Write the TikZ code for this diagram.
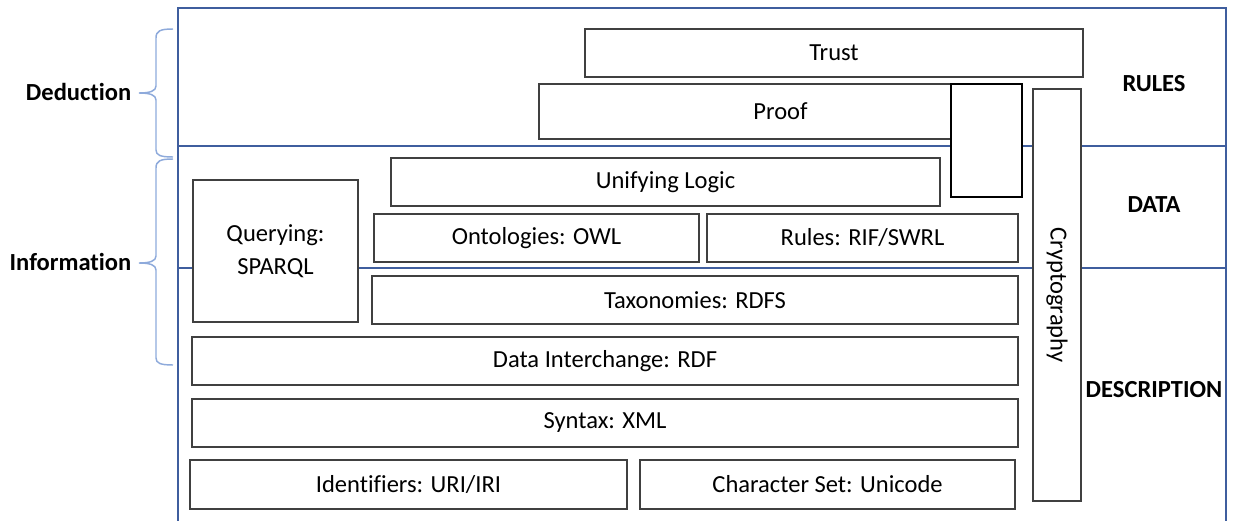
\documentclass[tikz,border=0pt]{standalone}
\usepackage{fontspec}
\setmainfont{Carlito}[Ligatures=NoCommon]
\usetikzlibrary{fit}
\definecolor{frameblue}{HTML}{3F5E9E}
\definecolor{braceblue}{HTML}{8EAADB}
\definecolor{boxgray}{HTML}{404040}
\begin{document}
\begin{tikzpicture}[x=0.75pt,y=-0.75pt,
  every node/.style={font=\fontsize{18.4}{22}\selectfont},
  layer/.style={draw=boxgray, line width=0.9pt, fill=white, inner sep=0pt},
  boxtext/.style={align=center, inner sep=0pt},
  frameline/.style={draw=frameblue, line width=1.5pt},
  bracepath/.style={draw=braceblue, line width=1.1pt},
  sidelabel/.style={font=\fontsize{18.4}{22}\selectfont\bfseries}]
\useasboundingbox (0,0) rectangle (1236,521);

% outer frame and band separators
\draw[frameline] (178,521) -- (178,8) -- (1226,8) -- (1226,521);
\draw[frameline] (178,146) -- (1226,146);
\draw[frameline] (178,268) -- (1226,268);

% stack layers
\node[layer, fit={(585,29) (1083,77)}, label={[boxtext]center:Trust}] (trust) {};
\node[layer, fit={(539,84) (1022,139)}, label={[boxtext]center:Proof}] (proof) {};
\node[layer, draw=black, line width=1.4pt, fit={(951,84) (1022,197)}] (proofext) {};
\node[layer, fit={(1033,89) (1081,501)}, label={[boxtext, rotate=-90]center:Cryptography}] (crypto) {};
\node[layer, fit={(391,158) (940,206)}, label={[boxtext]center:Unifying Logic}] (logic) {};
\node[layer, fit={(374,214) (699,262)}, label={[boxtext]center:Ontologies: OWL}] (owl) {};
\node[layer, fit={(707,214) (1018,262)}, label={[boxtext]center:Rules: RIF/SWRL}] (rif) {};
\node[layer, fit={(193,180) (358,322)}, label={[boxtext]center:{Querying:\\[3pt]SPARQL}}] (sparql) {};
\node[layer, fit={(372,276) (1018,324)}, label={[boxtext]center:Taxonomies: RDFS}] (rdfs) {};
\node[layer, fit={(192,337) (1018,385)}, label={[boxtext]center:Data Interchange: RDF}] (rdf) {};
\node[layer, fit={(192,399) (1018,447)}, label={[boxtext]center:Syntax: XML}] (xml) {};
\node[layer, fit={(190,460) (627,509)}, label={[boxtext]center:Identifiers: URI/IRI}] (uri) {};
\node[layer, fit={(640,460) (1015,509)}, label={[boxtext]center:Character Set: Unicode}] (unicode) {};

% band names
\node[sidelabel] (rules) at (1154,84) {RULES};
\node[sidelabel] (data) at (1154,205) {DATA};
\node[sidelabel] (descr) at (1154,390) {DESCRIPTION};

% braces on the left
\draw[bracepath] (173,29) .. controls (160,29) and (156,31) .. (156,38)
  -- (156,86) .. controls (156,91) and (150,93) .. (139,93)
  .. controls (150,93) and (156,95) .. (156,100)
  -- (156,150) .. controls (156,155) and (160,157) .. (173,157);
\draw[bracepath] (173,159) .. controls (160,159) and (156,161) .. (156,168)
  -- (156,256) .. controls (156,261) and (150,263) .. (139,263)
  .. controls (150,263) and (156,265) .. (156,270)
  -- (156,358) .. controls (156,363) and (160,365) .. (173,365);
\node[sidelabel, anchor=east] (deduction) at (136,92) {Deduction};
\node[sidelabel, anchor=east] (information) at (136,262) {Information};
\end{tikzpicture}
\end{document}
